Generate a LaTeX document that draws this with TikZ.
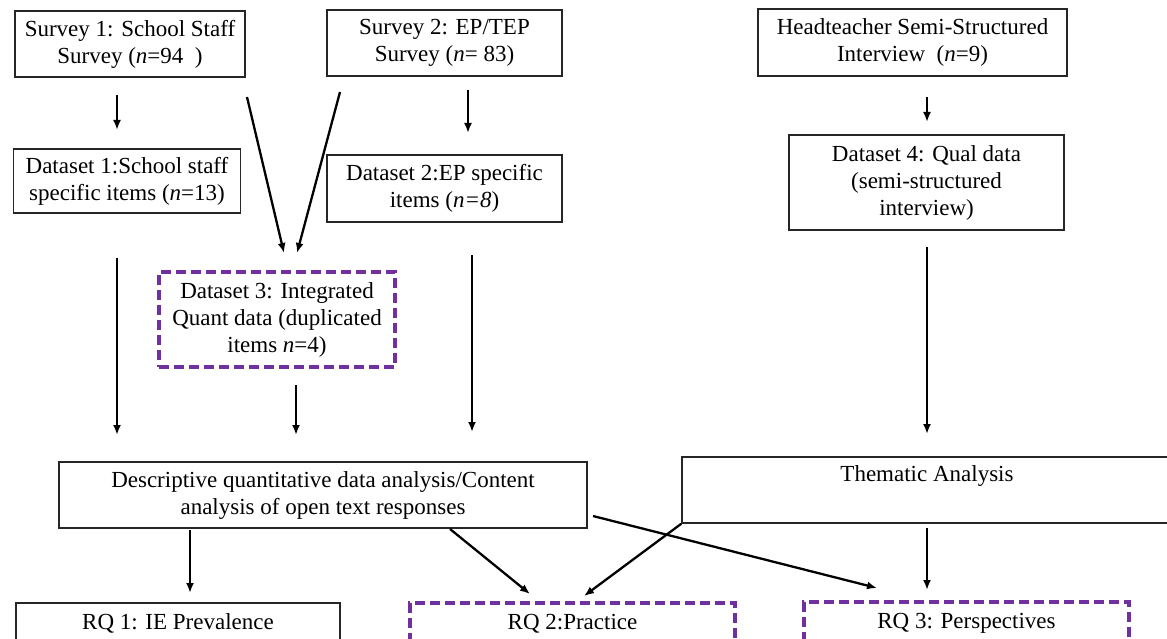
\documentclass[tikz,border=0pt]{standalone}
\usepackage{fontspec}
\setmainfont{Liberation Serif}
\usetikzlibrary{arrows.meta}
\definecolor{rqpurple}{HTML}{7030A0}
\begin{document}
\begin{tikzpicture}[x=1pt,y=-1pt,
  every node/.style={font=\fontsize{23}{27}\selectfont, align=center, inner sep=0pt},
  box/.style={draw=black!85, line width=1.5pt, rectangle},
  dashbox/.style={draw=rqpurple, line width=3.6pt, dash pattern=on 10pt off 5pt, rectangle},
  flow/.style={line width=2.3pt, -{Latex[length=10pt,width=8pt]}}]
\clip (0,0) rectangle (1167,639);
\useasboundingbox (0,0) rectangle (1167,639);

% sources
\node[box, minimum width=230pt, minimum height=66pt] (s1) at (130,44)
  {Survey 1: School Staff\\Survey (\textit{n}=94\ \ )};
\node[box, minimum width=235pt, minimum height=66pt] (s2) at (444.5,43)
  {Survey 2: EP/TEP\\Survey (\textit{n}= 83)};
\node[box, minimum width=309pt, minimum height=67pt] (ht) at (912.5,42.5)
  {Headteacher Semi-Structured\\Interview\ \ (\textit{n}=9)};

% datasets
\node[box, minimum width=227pt, minimum height=64pt] (d1) at (127,181)
  {Dataset 1:School staff\\specific items (\textit{n}=13)};
\node[box, minimum width=235pt, minimum height=67pt] (d2) at (444.5,188.5)
  {Dataset 2:EP specific\\items (\textit{n=8})};
\node[dashbox, minimum width=236pt, minimum height=95pt] (d3) at (277,319.5)
  {Dataset 3: Integrated\\Quant data (duplicated\\items \textit{n}=4)};
\node[box, line width=2.2pt, minimum width=275pt, minimum height=95pt] (d4) at (926.5,182.5)
  {Dataset 4: Qual data\\(semi-structured\\interview)};

% analyses
\node[box, minimum width=528pt, minimum height=66pt] (desc) at (323,495)
  {Descriptive quantitative data analysis/Content\\analysis of open text responses};
\node[box, minimum width=490pt, minimum height=66pt] (ta) at (927,490)
  {\strut Thematic Analysis\\\strut};

% research questions
\node[box, minimum width=324pt, minimum height=70pt] (rq1) at (178,638)
  {\strut RQ 1: IE Prevalence\\\strut};
\node[dashbox, minimum width=325pt, minimum height=70pt] (rq2) at (572.5,638)
  {\strut RQ 2:Practice\\\strut};
\node[dashbox, minimum width=325pt, minimum height=70pt] (rq3) at (966.5,637)
  {\strut RQ 3: Perspectives\\\strut};

% connector end points
\coordinate (a1s) at (117,95);   \coordinate (a1e) at (117,130);
\coordinate (a2s) at (468,90);   \coordinate (a2e) at (468,133);
\coordinate (a3s) at (927,97);   \coordinate (a3e) at (927,122);
\coordinate (a4s) at (247,97);   \coordinate (a4e) at (284,253);
\coordinate (a5s) at (340,92);   \coordinate (a5e) at (297,253);
\coordinate (a6s) at (117,258);  \coordinate (a6e) at (117,435);
\coordinate (a7s) at (296,385);  \coordinate (a7e) at (296,435);
\coordinate (a8s) at (472,255);  \coordinate (a8e) at (472,432);
\coordinate (a9s) at (927,247);  \coordinate (a9e) at (927,434);
\coordinate (b1s) at (190,530);  \coordinate (b1e) at (190,593);
\coordinate (b2s) at (450,529);  \coordinate (b2e) at (530,594);
\coordinate (b3s) at (ta.south west); \coordinate (b3e) at (584,596);
\coordinate (b4s) at (593,516);  \coordinate (b4e) at (877,588);
\coordinate (b5s) at (927,528);  \coordinate (b5e) at (927,590);

\draw[flow] (a1s) -- (a1e);
\draw[flow] (a2s) -- (a2e);
\draw[flow] (a3s) -- (a3e);
\draw[flow] (a4s) -- (a4e);
\draw[flow] (a5s) -- (a5e);
\draw[flow] (a6s) -- (a6e);
\draw[flow] (a7s) -- (a7e);
\draw[flow] (a8s) -- (a8e);
\draw[flow] (a9s) -- (a9e);
\draw[flow] (b1s) -- (b1e);
\draw[flow] (b2s) -- (b2e);
\draw[flow] (b3s) -- (b3e);
\draw[flow] (b4s) -- (b4e);
\draw[flow] (b5s) -- (b5e);
\end{tikzpicture}
\end{document}
